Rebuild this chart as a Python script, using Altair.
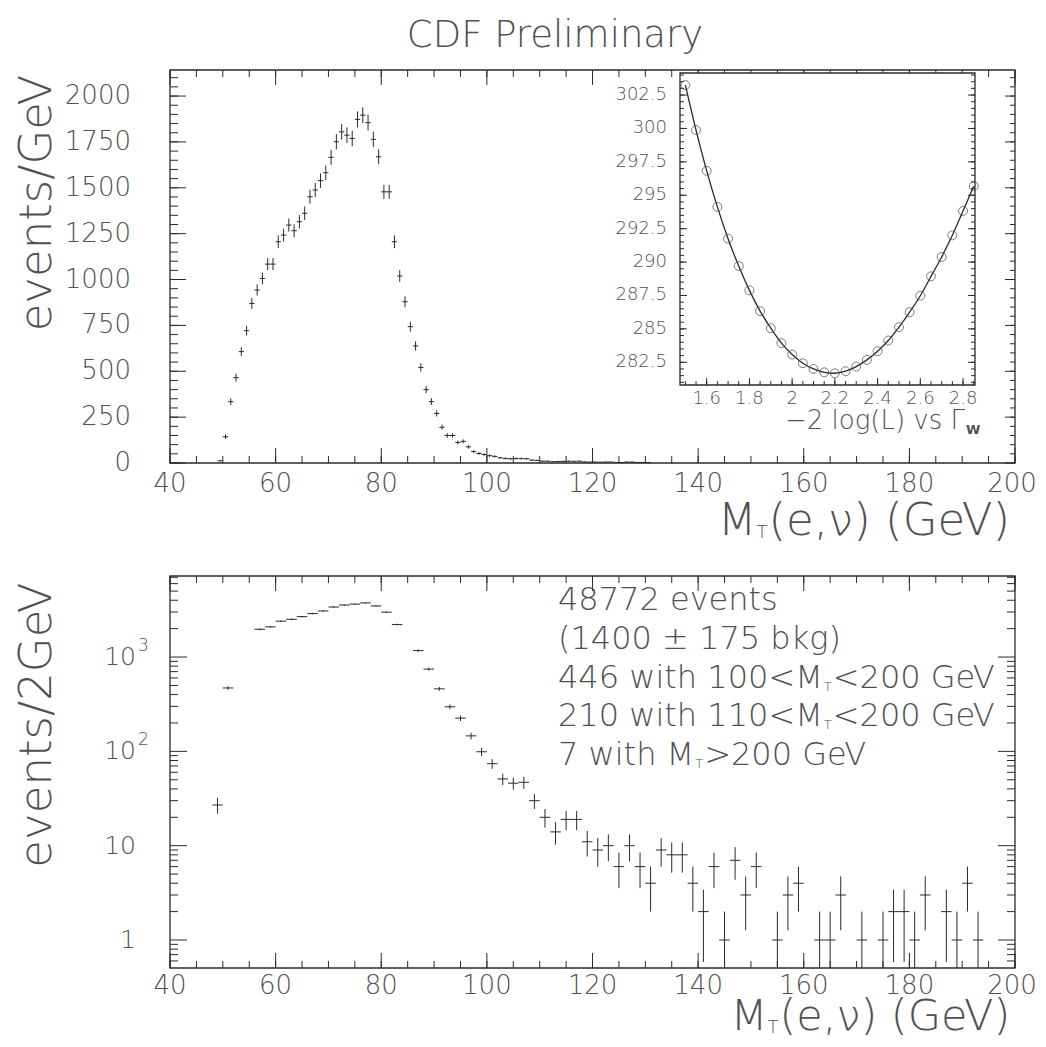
import altair as alt
import pandas as pd
import numpy as np

# ---------------- data ----------------
# upper panel: events per 1 GeV, bins [low, low+1)
top_bin_low = list(range(49, 131))
top_counts = [12, 143, 334, 465, 607, 721, 870, 943, 1006, 1084,
              1084, 1206, 1242, 1297, 1266, 1315, 1361, 1451, 1488, 1539,
              1582, 1666, 1751, 1805, 1787, 1769, 1873, 1896, 1855, 1764,
              1669, 1478, 1478, 1206, 1019, 879, 743, 638, 521, 400,
              335, 270, 195, 150, 150, 112, 118, 88, 62, 52,
              46, 40, 36, 28, 25, 23, 24, 24, 23, 16,
              14, 10, 10, 7, 8, 9, 10, 9, 10, 6,
              5, 5, 4, 5, 5, 3, 3, 5, 5, 3,
              3, 2]

# lower panel: events per 2 GeV (bin centres)
bot_centers = [49, 51, 57, 59, 61, 63, 65, 67, 69, 71, 73, 75, 77, 79, 81, 83,
               87, 89, 91, 93, 95, 97, 99, 101, 103, 105, 107, 109, 111, 113,
               115, 117, 119, 121, 123, 125, 127, 129, 131, 133, 135, 137, 139,
               141, 143, 145, 147, 149, 151, 155, 157, 159, 163, 165, 167, 171,
               175, 177, 179, 181, 183, 187, 189, 191, 193]
bot_counts = [27, 470, 1970, 2090, 2400, 2510, 2680, 2890, 3080, 3390, 3560, 3640,
              3750, 3480, 2990, 2210,
              1170, 745, 460, 297, 225, 146, 99, 74, 51, 46, 47, 30, 20, 14,
              19, 19, 11, 9, 10, 6, 10, 6, 4, 9, 8, 8, 4,
              2, 6, 1, 7, 3, 6, 1, 3, 4, 1, 1, 3, 1,
              1, 2, 2, 1, 3, 2, 1, 4, 1]

# inset: -2 log(L) vs Gamma_W
inset_gamma = [1.50, 1.55, 1.60, 1.65, 1.70, 1.75, 1.80, 1.85, 1.90, 1.95,
               2.00, 2.05, 2.10, 2.15, 2.20, 2.25, 2.30, 2.35, 2.40, 2.45,
               2.50, 2.55, 2.60, 2.65, 2.70, 2.75, 2.80, 2.85]
inset_nll = [303.25, 299.88, 296.83, 294.13, 291.75, 289.70, 287.88, 286.33,
             285.05, 283.93, 283.08, 282.43, 282.00, 281.75, 281.68, 281.83,
             282.18, 282.68, 283.33, 284.13, 285.13, 286.25, 287.48, 288.93,
             290.38, 292.00, 293.83, 295.68]

# tick values / labels
x_major = [40, 60, 80, 100, 120, 140, 160, 180]
x_last = [200]
x_minor = list(range(40, 201, 5))
top_y_major = [0, 250, 500, 750, 1000, 1250, 1500, 1750, 2000]
top_y_minor = list(range(0, 2101, 50))
bot_y_major = [1, 10, 100, 1000]
bot_y_labels = ["1", "10", "10", "10"]
bot_y_sup = {100: "2", 1000: "3"}
bot_y_minor = [0.6, 0.7, 0.8, 0.9] + [m * d for d in (1, 10, 100) for m in range(2, 10)] + \
              [2000, 3000, 4000, 5000, 6000, 7000]
in_x_major = [1.6, 1.8, 2.0, 2.2, 2.4, 2.6, 2.8]
in_x_labels = ["1.6", "1.8", "2", "2.2", "2.4", "2.6", "2.8"]
in_x_minor = [round(1.5 + 0.05 * i, 2) for i in range(28)]
in_y_major = [282.5, 285, 287.5, 290, 292.5, 295, 297.5, 300, 302.5]
in_y_labels = ["282.5", "285", "287.5", "290", "292.5", "295", "297.5", "300", "302.5"]
in_y_minor = [281 + 0.5 * i for i in range(47)]

annot_lines = [
    ["48772 events"],
    ["(1400 \u00b1 175 bkg)"],
    ["446 with 100<M", "T", "<200 GeV"],
    ["210 with 110<M", "T", "<200 GeV"],
    ["7 with M", "T", ">200 GeV"],
]

# ---------------- layout / style ----------------
W = 845
H = 898
TOP_H = 393
BOT_Y0, BOT_Y1 = 506, 898
IN_X0, IN_X1, IN_Y0, IN_Y1 = 510, 805, 3, 315
INK = "#2a2a2a"
TXT = "#505050"
FONT = "DejaVu Sans"
FW = 200

xs = alt.Scale(domain=[40, 200], range=[0, W], nice=False, zero=False)
ys_top = alt.Scale(domain=[0, 2142], range=[TOP_H, 0], nice=False, zero=False)
ys_bot = alt.Scale(type="log", domain=[0.505, 7230], range=[BOT_Y1, BOT_Y0], nice=False)
xs_in = alt.Scale(domain=[1.475, 2.856], range=[IN_X0, IN_X1], nice=False, zero=False)
ys_in = alt.Scale(domain=[280.8, 304.15], range=[IN_Y1, IN_Y0], nice=False, zero=False)

# DejaVu Sans advance widths (em) for the characters used in composed labels
CW = {" ": .318, "(": .390, ")": .390, ",": .318, ".": .318, "<": .838, ">": .838,
      "\u00b1": .838, "M": .863, "T": .611, "G": .775, "V": .684, "e": .615,
      "v": .592, "n": .634, "t": .392, "s": .521, "w": .818, "i": .278, "h": .634,
      "b": .635, "k": .579, "g": .635, "\u03bd": .592}


def tw(s, size):
    return sum(CW.get(c, .636) for c in s) * size


ONE = pd.DataFrame({"a": [0]})


def txt(text, x, y, size, align="left", baseline="alphabetic", angle=0, color=TXT, weight=FW):
    return alt.Chart(ONE).mark_text(
        text=text, font=FONT, fontSize=size, align=align, baseline=baseline,
        angle=angle, color=color, fontWeight=weight
    ).encode(x=alt.value(x), y=alt.value(y))


def yticks(vals, scale, x0, x1, width=1):
    return alt.Chart(pd.DataFrame({"v": vals})).mark_rule(color=INK, strokeWidth=width).encode(
        y=alt.Y("v:Q", scale=scale, axis=None), x=alt.value(x0), x2=alt.value(x1))


def xticks(vals, scale, y0, y1, width=1):
    return alt.Chart(pd.DataFrame({"v": vals})).mark_rule(color=INK, strokeWidth=width).encode(
        x=alt.X("v:Q", scale=scale, axis=None), y=alt.value(y0), y2=alt.value(y1))


def frame(x0, x1, y0, y1, fill=None):
    kw = dict(stroke=INK, strokeWidth=1.3)
    if fill:
        kw["fill"] = fill
    else:
        kw["fillOpacity"] = 0
    return alt.Chart(ONE).mark_rect(**kw).encode(
        x=alt.value(x0), x2=alt.value(x1), y=alt.value(y0), y2=alt.value(y1))


def tick_labels(vals, labels, scale, channel, pos, size, align, dy=0, dx=0):
    df = pd.DataFrame({"v": vals, "t": labels})
    m = alt.Chart(df).mark_text(font=FONT, fontSize=size, align=align, baseline="middle",
                                color=TXT, fontWeight=FW, dy=dy, dx=dx)
    if channel == "x":
        return m.encode(x=alt.X("v:Q", scale=scale, axis=None), y=alt.value(pos), text="t:N")
    return m.encode(y=alt.Y("v:Q", scale=scale, axis=None), x=alt.value(pos), text="t:N")


layers = []

# ---------- upper panel ----------
layers.append(frame(0, W, 0, TOP_H))
layers += [
    yticks(top_y_minor, ys_top, 0, 8), yticks(top_y_major, ys_top, 0, 16),
    yticks(top_y_minor, ys_top, W - 5, W), yticks(top_y_major, ys_top, W - 10, W),
    xticks(x_minor, xs, TOP_H - 7, TOP_H), xticks(x_major + x_last, xs, TOP_H - 15, TOP_H),
    xticks(x_minor, xs, 0, 7), xticks(x_major + x_last, xs, 0, 15),
]

n_top = np.array(top_counts, dtype=float)
df_top = pd.DataFrame({"x": np.array(top_bin_low) + 0.5, "n": n_top})
df_top["lo"] = np.clip(n_top - np.sqrt(n_top), 0, None)
df_top["hi"] = n_top + np.sqrt(n_top)
df_top["xl"] = df_top["x"] - 0.5
df_top["xr"] = df_top["x"] + 0.5
layers.append(alt.Chart(df_top).mark_rule(color=INK, strokeWidth=1).encode(
    x=alt.X("x:Q", scale=xs, axis=None), y=alt.Y("lo:Q", scale=ys_top, axis=None), y2="hi:Q"))
layers.append(alt.Chart(df_top).mark_rule(color=INK, strokeWidth=1).encode(
    x=alt.X("xl:Q", scale=xs, axis=None), x2="xr:Q", y=alt.Y("n:Q", scale=ys_top, axis=None)))

layers.append(tick_labels(top_y_major, [str(v) for v in top_y_major], ys_top, "y", -39, 26, "right"))
layers.append(tick_labels(x_major, [str(v) for v in x_major], xs, "x", TOP_H + 21, 26, "center"))
layers.append(tick_labels(x_last, [str(v) for v in x_last], xs, "x", TOP_H + 21, 26, "center", dx=-3))

# ---------- inset ----------
layers.append(frame(IN_X0, IN_X1, IN_Y0, IN_Y1, fill="white"))
layers += [
    xticks(in_x_minor, xs_in, IN_Y1 - 4, IN_Y1), xticks(in_x_major, xs_in, IN_Y1 - 7, IN_Y1),
    yticks(in_y_minor, ys_in, IN_X0, IN_X0 + 4), yticks(in_y_major, ys_in, IN_X0, IN_X0 + 7),
    yticks(in_y_minor, ys_in, IN_X1 - 4, IN_X1), yticks(in_y_major, ys_in, IN_X1 - 7, IN_X1),
]
df_in = pd.DataFrame({"g": inset_gamma, "l": inset_nll})
layers.append(alt.Chart(df_in).mark_line(color=INK, strokeWidth=1.3, interpolate="monotone", clip=True).encode(
    x=alt.X("g:Q", scale=xs_in, axis=None), y=alt.Y("l:Q", scale=ys_in, axis=None)))
layers.append(alt.Chart(df_in).mark_point(shape="circle", filled=False, size=80, color="#444444", strokeWidth=1).encode(
    x=alt.X("g:Q", scale=xs_in, axis=None), y=alt.Y("l:Q", scale=ys_in, axis=None)))
layers.append(tick_labels(in_x_major, in_x_labels, xs_in, "x", IN_Y1 + 14, 18, "center"))
layers.append(tick_labels(in_y_major, in_y_labels, ys_in, "y", IN_X0 - 13, 18, "right"))
layers.append(txt("\u22122 log(L) vs \u0393", 795, 359, 26, align="right"))
layers.append(txt("W", 796, 364, 13, weight="bold"))

# ---------- lower panel ----------
layers.append(frame(0, W, BOT_Y0, BOT_Y1))
layers += [
    yticks(bot_y_minor, ys_bot, 0, 8), yticks(bot_y_major, ys_bot, 0, 17),
    yticks(bot_y_minor, ys_bot, W - 8, W), yticks(bot_y_major, ys_bot, W - 17, W),
    xticks(x_minor, xs, BOT_Y1 - 7, BOT_Y1), xticks(x_major + x_last, xs, BOT_Y1 - 15, BOT_Y1),
    xticks(x_minor, xs, BOT_Y0, BOT_Y0 + 7), xticks(x_major + x_last, xs, BOT_Y0, BOT_Y0 + 15),
]
n_bot = np.array(bot_counts, dtype=float)
df_bot = pd.DataFrame({"x": bot_centers, "n": n_bot})
df_bot["lo"] = np.clip(n_bot - np.sqrt(n_bot), 0.505, None)
df_bot["hi"] = n_bot + np.sqrt(n_bot)
df_bot["xl"] = df_bot["x"] - 1
df_bot["xr"] = df_bot["x"] + 1
layers.append(alt.Chart(df_bot).mark_rule(color=INK, strokeWidth=1).encode(
    x=alt.X("x:Q", scale=xs, axis=None), y=alt.Y("lo:Q", scale=ys_bot, axis=None), y2="hi:Q"))
layers.append(alt.Chart(df_bot).mark_rule(color=INK, strokeWidth=1).encode(
    x=alt.X("xl:Q", scale=xs, axis=None), x2="xr:Q", y=alt.Y("n:Q", scale=ys_bot, axis=None)))

layers.append(tick_labels(bot_y_major, bot_y_labels, ys_bot, "y", -34, 25, "right"))
layers.append(tick_labels(list(bot_y_sup.keys()), list(bot_y_sup.values()), ys_bot, "y", -32, 17, "left", dy=-11))
layers.append(tick_labels(x_major, [str(v) for v in x_major], xs, "x", BOT_Y1 + 18, 26, "center"))
layers.append(tick_labels(x_last, [str(v) for v in x_last], xs, "x", BOT_Y1 + 18, 26, "center", dx=-3))

# annotation block
AX, AY0, ADY, AF, SF = 388, 540, 38.8, 32, 13
for i, parts in enumerate(annot_lines):
    yb = AY0 + i * ADY
    if len(parts) == 1:
        layers.append(txt(parts[0], AX, yb, AF))
    else:
        x1 = AX + tw(parts[0], AF)
        layers.append(txt(parts[0], AX, yb, AF))
        layers.append(txt(parts[1], x1 + 1, yb + 3, SF))
        layers.append(txt(parts[2], x1 + 1 + tw(parts[1], SF) + 1, yb, AF))

# ---------- titles ----------
layers.append(txt("CDF Preliminary", 385, -23, 37, align="center"))
layers.append(txt("events/GeV", -133, 133, 45, align="center", baseline="middle", angle=270))
layers.append(txt("events/2GeV", -133, 655, 45, align="center", baseline="middle", angle=270))

rest = "(e,\u03bd) (GeV)"
for yb, fs in ((TOP_H + 72, 45), (BOT_Y1 + 62, 43)):
    rx = W - tw(rest, fs)
    layers.append(txt(rest, rx, yb, fs))
    layers.append(txt("T", rx - 12, yb + 3, 18))
    layers.append(txt("M", rx - 12, yb, fs, align="right"))

chart = alt.layer(*layers).resolve_scale(x="independent", y="independent").properties(
    width=W, height=H,
    padding={"left": 162, "top": 62, "right": 23, "bottom": 71},
    autosize=alt.AutoSizeParams(type="none"),
).configure_view(strokeWidth=0)

chart.save("out.html", embed_options={"renderer": "svg", "actions": False})
